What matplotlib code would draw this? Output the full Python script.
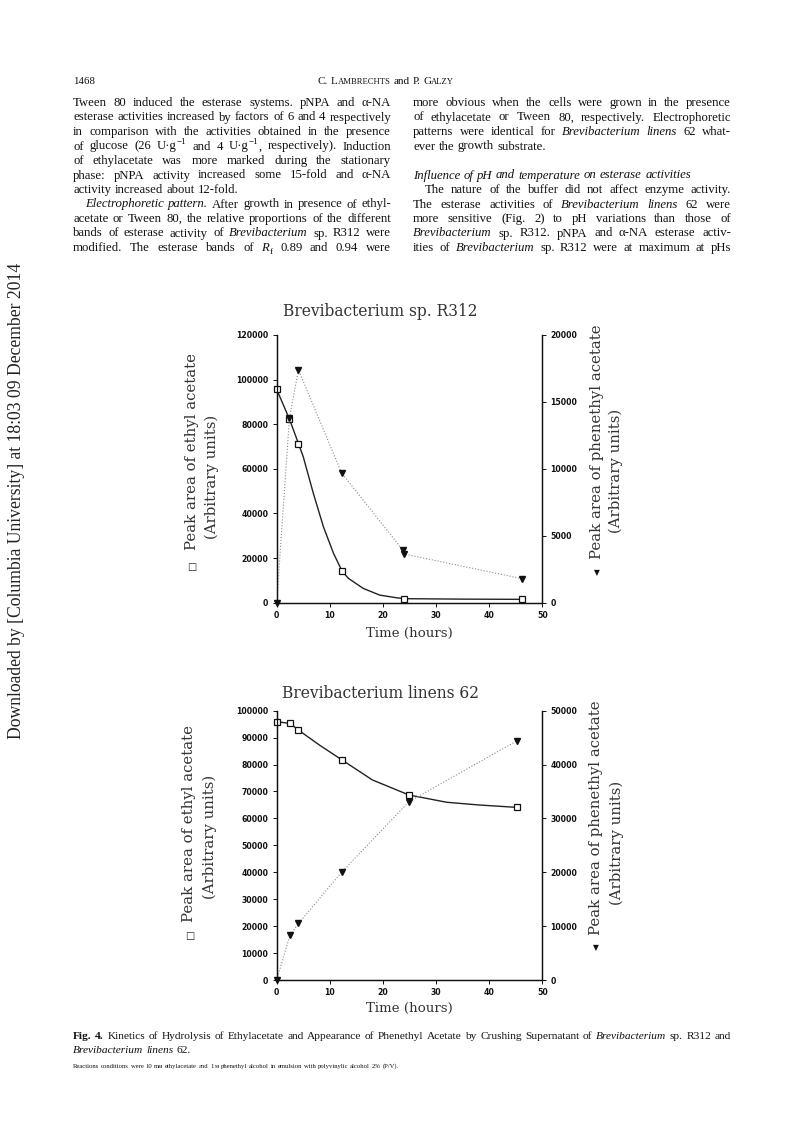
import matplotlib
matplotlib.use('Agg')
import matplotlib.pyplot as plt
import matplotlib.transforms as mtransforms

# ---- data ----
# Brevibacterium sp. R312
time_ea_r312 = [0, 2.4, 4.1, 12.3, 23.9, 46.2]
ea_r312 = [95600, 82300, 71300, 14200, 1800, 1500]
time_pa_r312 = [0, 2.4, 4.1, 12.2, 23.8, 23.9, 46.1]
pa_r312 = [0, 13800, 17400, 9700, 3900, 3650, 1800]
# hand-drawn fitted curve through the ethyl acetate points
fit_t_r312 = [0, 2.4, 4.1, 5.0, 6.9, 8.8, 10.7, 12.3, 13.5, 16.3, 19.4, 22.6, 24, 35, 46.2]
fit_ea_r312 = [95600, 82300, 71300, 65400, 49000, 34000, 22100, 14200, 10900, 6400, 3400, 2200, 1800, 1600, 1500]

# Brevibacterium linens 62
time_ea_l62 = [0, 2.5, 4.1, 12.3, 24.9, 45.2]
ea_l62 = [95900, 95300, 92800, 81700, 68700, 64100]
time_pa_l62 = [0, 2.5, 4.1, 12.2, 24.9, 45.2]
pa_l62 = [0, 8300, 10500, 20000, 33100, 44400]
fit_t_l62 = [0, 2.5, 4.1, 8, 12.3, 18, 24.9, 32, 38, 45.2]
fit_ea_l62 = [95900, 95300, 92800, 87300, 81700, 74300, 68700, 66000, 65000, 64100]

x_ticks = [0, 10, 20, 30, 40, 50]
left_ticks_r312 = [0, 20000, 40000, 60000, 80000, 100000, 120000]
right_ticks_r312 = [0, 5000, 10000, 15000, 20000]
left_ticks_l62 = [0, 10000, 20000, 30000, 40000, 50000, 60000, 70000, 80000, 90000, 100000]
right_ticks_l62 = [0, 10000, 20000, 30000, 40000, 50000]

# page text ('_' italic, '*' bold, '^' superscript, '~' subscript)
left_col = [
    ("Tween 80 induced the esterase systems. pNPA and α-NA", True, 0),
    ("esterase activities increased by factors of 6 and 4 respectively", True, 0),
    ("in comparison with the activities obtained in the presence", True, 0),
    ("of glucose (26 U·g^−1^ and 4 U·g^−1^, respectively). Induction", True, 0),
    ("of ethylacetate was more marked during the stationary", True, 0),
    ("phase: pNPA activity increased some 15-fold and α-NA", True, 0),
    ("activity increased about 12-fold.", False, 0),
    ("_Electrophoretic pattern._ After growth in presence of ethyl-", True, 12),
    ("acetate or Tween 80, the relative proportions of the different", True, 0),
    ("bands of esterase activity of _Brevibacterium_ sp. R312 were", True, 0),
    ("modified. The esterase bands of _R_~f~ 0.89 and 0.94 were", True, 0),
]
right_col = [
    ("more obvious when the cells were grown in the presence", True, 0),
    ("of ethylacetate or Tween 80, respectively. Electrophoretic", True, 0),
    ("patterns were identical for _Brevibacterium linens_ 62 what-", True, 0),
    ("ever the growth substrate.", False, 0),
    ("", False, 0),
    ("_Influence of pH and temperature on esterase activities_", False, 0),
    ("The nature of the buffer did not affect enzyme activity.", True, 12),
    ("The esterase activities of _Brevibacterium linens_ 62 were", True, 0),
    ("more sensitive (Fig. 2) to pH variations than those of", True, 0),
    ("_Brevibacterium_ sp. R312. pNPA and α-NA esterase activ-", True, 0),
    ("ities of _Brevibacterium_ sp. R312 were at maximum at pHs", True, 0),
]
caption_1 = "*Fig. 4.*  Kinetics of Hydrolysis of Ethylacetate and Appearance of Phenethyl Acetate by Crushing Supernatant of _Brevibacterium_ sp. R312 and"
caption_2 = "_Brevibacterium linens_ 62."
caption_3 = "Reactions conditions were 10 mм ethylacetate and 1 м phenethyl alcohol in emulsion with polyvinylic alcohol 2% (P/V)."
sidebar = "Downloaded by [Columbia University] at 18:03 09 December 2014"

W, H = 793, 1123
fig = plt.figure(figsize=(W / 100, H / 100), dpi=100)
fig.patch.set_facecolor('white')
renderer = fig.canvas.get_renderer()
PX = mtransforms.IdentityTransform()
SERIF = ['Liberation Serif', 'DejaVu Serif']
CHART_FONT = ['DejaVu Serif']


def parse(line, size):
    words, cur, piece = [], [], ''
    st = {'italic': False, 'bold': False, 'sup': False, 'sub': False}

    def props():
        p = {'size': size, 'style': 'italic' if st['italic'] else 'normal',
             'weight': 'bold' if st['bold'] else 'normal', 'dy': 0}
        if st['sup']:
            p['size'] = size * 0.7
            p['dy'] = size * 0.45
        if st['sub']:
            p['size'] = size * 0.7
            p['dy'] = -size * 0.25
        return p

    for ch in line:
        if ch in '_*^~':
            if piece:
                cur.append((piece, props()))
                piece = ''
            key = {'_': 'italic', '*': 'bold', '^': 'sup', '~': 'sub'}[ch]
            st[key] = not st[key]
        elif ch == ' ':
            if piece:
                cur.append((piece, props()))
                piece = ''
            if cur:
                words.append(cur)
                cur = []
        else:
            piece += ch
    if piece:
        cur.append((piece, props()))
    if cur:
        words.append(cur)
    return words


def kw(p):
    return dict(fontsize=p['size'], fontstyle=p['style'], fontweight=p['weight'],
                family=SERIF, color='#111111')


def measure(text, p):
    t = fig.text(0, 0, text, transform=PX, **kw(p))
    w = t.get_window_extent(renderer).width
    t.remove()
    return w


def draw_line(x0, y, words, size, width=None, justify=False, indent=0, center=False):
    if not words:
        return
    wws = [sum(measure(s, p) for s, p in wd) for wd in words]
    gap = size * 100 / 72 * 0.27
    if justify and len(words) > 1:
        gap = (width - indent - sum(wws)) / (len(words) - 1)
    total = sum(wws) + gap * (len(words) - 1)
    x = x0 + indent
    if center:
        x = x0 - total / 2
    for wd, ww in zip(words, wws):
        xx = x
        for s, p in wd:
            fig.text(xx, H - y + p['dy'] * 100 / 72, s, transform=PX, va='baseline', **kw(p))
            xx += measure(s, p)
        x += ww + gap


# ---- running head ----
BODY = 9.2
draw_line(73, 84, parse("1468", 7.8), 7.8)
head = [[("C.", {'size': 8, 'style': 'normal', 'weight': 'normal', 'dy': 0})],
        [("L", {'size': 8, 'style': 'normal', 'weight': 'normal', 'dy': 0}),
         ("AMBRECHTS", {'size': 6.2, 'style': 'normal', 'weight': 'normal', 'dy': 0})],
        [("and", {'size': 8, 'style': 'normal', 'weight': 'normal', 'dy': 0})],
        [("P.", {'size': 8, 'style': 'normal', 'weight': 'normal', 'dy': 0})],
        [("G", {'size': 8, 'style': 'normal', 'weight': 'normal', 'dy': 0}),
         ("ALZY", {'size': 6.2, 'style': 'normal', 'weight': 'normal', 'dy': 0})]]
draw_line(386, 84, head, 8, center=True)

# ---- two text columns ----
for col_x, lines in [(73, left_col), (413, right_col)]:
    for i, (txt, just, ind) in enumerate(lines):
        draw_line(col_x, 106 + i * 14.5, parse(txt, BODY), BODY, width=318,
                  justify=just, indent=ind)

# ---- caption ----
draw_line(73, 1039, parse(caption_1, 8.2), 8.2, width=658, justify=True)
draw_line(73, 1053, parse(caption_2, 8.2), 8.2)
draw_line(73, 1068, parse(caption_3, 4.8), 4.8)

fig.text(17, H - 501, sidebar, transform=PX, rotation=90, ha='center', va='center',
         fontsize=12.7, family=SERIF, color='#222222')


# ---- charts ----
def make_chart(top, bottom, title, title_y, xlab_y, lticks, rticks,
               t_fit, v_fit, t_ea, v_ea, t_pa, v_pa, lab_pos):
    left, right = 276.7, 542.3
    ax = fig.add_axes([left / W, 1 - bottom / H, (right - left) / W, (bottom - top) / H])
    ax2 = ax.twinx()
    ax.set_xlim(0, 50)
    ax.set_ylim(0, lticks[-1])
    ax2.set_ylim(0, rticks[-1])
    ax.patch.set_alpha(0)
    for a in (ax, ax2):
        a.spines['top'].set_visible(False)
        for s in a.spines.values():
            s.set_linewidth(0.9)
            s.set_color('#111111')
    ax.set_xticks(x_ticks, labels=[str(v) for v in x_ticks])
    ax.set_yticks(lticks, labels=[str(v) for v in lticks])
    ax2.set_yticks(rticks, labels=[str(v) for v in rticks])
    for a in (ax, ax2):
        a.tick_params(direction='out', length=3, width=0.7, pad=3, labelsize=5.6,
                      colors='#111111')
        for lb in a.get_xticklabels() + a.get_yticklabels():
            lb.set_fontweight('bold')
            lb.set_family('DejaVu Sans')

    ax.plot(t_fit, v_fit, '-', color='#222222', lw=1.0, zorder=2)
    ax.plot(t_ea, v_ea, 's', mfc='white', mec='#111111', ms=5, mew=0.9, zorder=5,
            clip_on=False)
    ax2.plot(t_pa, v_pa, ':', color='#8a8a8a', lw=0.8, zorder=1)
    ax2.plot(t_pa, v_pa, 'v', color='#111111', ms=5, zorder=6, clip_on=False)

    fig.text(380, H - title_y, title, transform=PX, ha='center', va='center',
             fontsize=11.2, family=CHART_FONT, color='#333333')
    fig.text(409.5, H - xlab_y, "Time (hours)", transform=PX, ha='center', va='center',
             fontsize=9.6, family=CHART_FONT, color='#333333')

    (l1x, l1y), (l2x, l2y), (sqy,), (r1x, r1y), (r2x, r2y), (try_,) = lab_pos
    lab = dict(transform=PX, rotation=90, ha='center', va='center', fontsize=10.7,
               family=CHART_FONT, color='#333333')
    fig.text(l1x, H - l1y, "Peak area of ethyl acetate", **lab)
    fig.text(l2x, H - l2y, "(Arbitrary units)", **lab)
    fig.text(r1x, H - r1y, "Peak area of phenethyl acetate", **lab)
    fig.text(r2x, H - r2y, "(Arbitrary units)", **lab)
    fig.text(l1x, H - sqy, "□", transform=PX, ha='center', va='center', fontsize=7,
             family=['DejaVu Sans'], color='#222222')
    fig.text(r1x, H - try_, "▼", transform=PX, ha='center', va='center', fontsize=5.5,
             family=['DejaVu Sans'], color='#111111')


make_chart(335, 602.7, "Brevibacterium sp. R312", 312, 633,
           left_ticks_r312, right_ticks_r312,
           fit_t_r312, fit_ea_r312, time_ea_r312, ea_r312, time_pa_r312, pa_r312,
           [(191.7, 452), (211.7, 477), (567,), (596.7, 442), (616, 471), (573,)])

make_chart(710.7, 980, "Brevibacterium linens 62", 693, 1008,
           left_ticks_l62, right_ticks_l62,
           fit_t_l62, fit_ea_l62, time_ea_l62, ea_l62, time_pa_l62, pa_l62,
           [(189.3, 823), (210, 836.5), (936,), (596, 818), (617, 843), (948,)])

fig.savefig('out.png', dpi=100, facecolor='white')
